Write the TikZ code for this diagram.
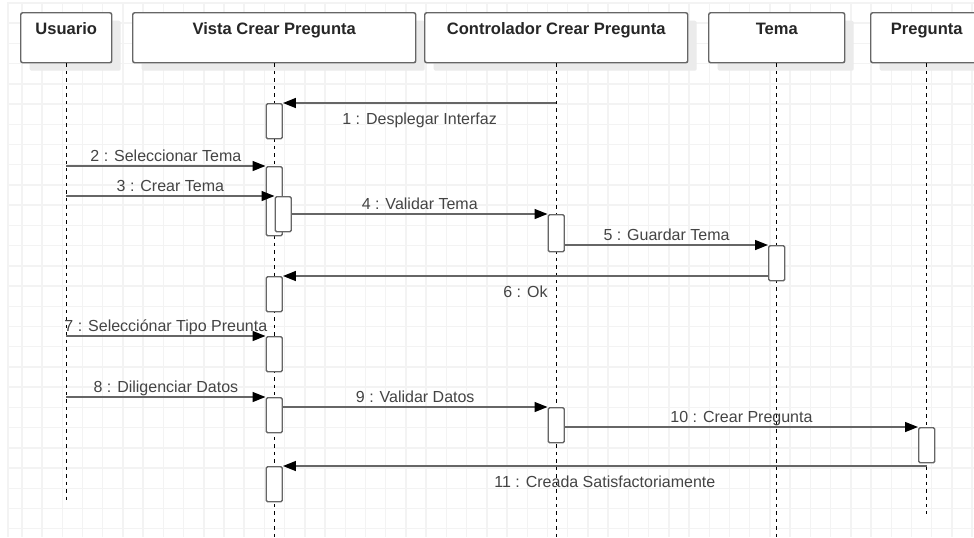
\documentclass[tikz,border=0pt]{standalone}
\usepackage{fontspec}
\setmainfont{Liberation Sans}
\usetikzlibrary{arrows.meta,shadows}
\definecolor{gridgray}{HTML}{F3F3F3}
\definecolor{linegray}{HTML}{666666}
\definecolor{textgray}{HTML}{444444}
\definecolor{shadowgray}{HTML}{EBEBEB}

\begin{document}
\begin{tikzpicture}[x=0.75pt,y=-0.75pt,
  gridline/.style={gridgray, line width=1.1pt},
  obj/.style={draw=linegray, line width=1.1pt, fill=white, rounded corners=1.5pt, anchor=north west,
    inner ysep=0pt, text height=16.3pt, text depth=21.2pt, text=black!85,
    font=\fontsize{12.4}{14}\selectfont\bfseries,
    general shadow={fill=shadowgray, shadow xshift=6.75pt, shadow yshift=-6pt}},
  life/.style={black, line width=0.9pt, dash pattern=on 2.6pt off 3pt},
  act/.style={draw=linegray, line width=1.1pt, fill=white, rounded corners=1pt, anchor=north,
    minimum width=12pt, minimum height=26.25pt, inner sep=0pt},
  msg/.style={linegray, line width=1.1pt, -{Triangle[length=9.75pt,width=7.5pt,color=black]}},
  lbl/.style={midway, font=\fontsize{12}{14}\selectfont, text=textgray, text height=9pt, text depth=2.5pt, inner sep=0.7pt}]
\useasboundingbox (0,0) rectangle (974,537);
\clip (0,0) rectangle (974,537);
\fill[white] (0,0) rectangle (974,537);
\foreach \i in {0,...,47}
  \draw[gridline] ({21.8+20.22*\i},3) -- ({21.8+20.22*\i},537);
\foreach \j in {0,...,25}
  \draw[gridline] (8,{23.2+20.22*\j}) -- (974,{23.2+20.22*\j});
\draw[gridline] (8,537) -- (8,3) -- (974,3);

\node[obj, minimum width=68.25pt] (usuario) at (20,12) {Usuario};
\node[obj, minimum width=212.25pt] (vista) at (132,12) {Vista Crear Pregunta};
\node[obj, minimum width=197.25pt] (control) at (424,12) {Controlador Crear Pregunta};
\node[obj, minimum width=102pt] (tema) at (708,12) {Tema};
\node[obj, minimum width=84pt] (pregunta) at (870,12) {Pregunta};

\draw[life] (usuario.south) -- ++(0,437);
\draw[life] (vista.south) -- ++(0,475);
\draw[life] (control.south) -- ++(0,475);
\draw[life] (tema.south) -- ++(0,475);
\draw[life] (pregunta.south) -- ++(0,451);

\node[act] (v1) at (vista.south |- 0,103) {};
\node[act, minimum height=51.75pt] (v2) at (vista.south |- 0,166) {};
\node[act, xshift=6.75pt] (v3) at (vista.south |- 0,196) {};
\node[act] (v4) at (vista.south |- 0,276) {};
\node[act] (v5) at (vista.south |- 0,336) {};
\node[act] (v6) at (vista.south |- 0,397) {};
\node[act] (v7) at (vista.south |- 0,466) {};
\node[act, minimum height=27.75pt] (c1) at (control.south |- 0,214) {};
\node[act] (c2) at (control.south |- 0,407) {};
\node[act] (t1) at (tema.south |- 0,245) {};
\node[act] (p1) at (pregunta.south |- 0,427) {};

\draw[msg] (control.south |- v1.north) -- (v1.north east) node[lbl, below=6pt] {1 : Desplegar Interfaz};
\draw[msg] (usuario.south |- v2.north) -- (v2.north west) node[lbl, above] {2 : Seleccionar Tema};
\draw[msg] (usuario.south |- v3.north) -- (v3.north west) node[lbl, above] {3 : Crear Tema};
\draw[msg] (v3.east |- c1.north) -- (c1.north west) node[lbl, above] {4 : Validar Tema};
\draw[msg] (c1.east |- t1.north) -- (t1.north west) node[lbl, above] {5 : Guardar Tema};
\draw[msg] (t1.west |- v4.north) -- (v4.north east) node[lbl, below=6pt] {6 : Ok};
\draw[msg] (usuario.south |- v5.north) -- (v5.north west) node[lbl, above] {7 : Selecciónar Tipo Preunta};
\draw[msg] (usuario.south |- v6.north) -- (v6.north west) node[lbl, above] {8 : Diligenciar Datos};
\draw[msg] (v6.east |- c2.north) -- (c2.north west) node[lbl, above] {9 : Validar Datos};
\draw[msg] (c2.east |- p1.north) -- (p1.north west) node[lbl, above] {10 : Crear Pregunta};
\draw[msg] (pregunta.south |- v7.north) -- (v7.north east) node[lbl, below=6pt] {11 : Creada Satisfactoriamente};
\end{tikzpicture}
\end{document}
